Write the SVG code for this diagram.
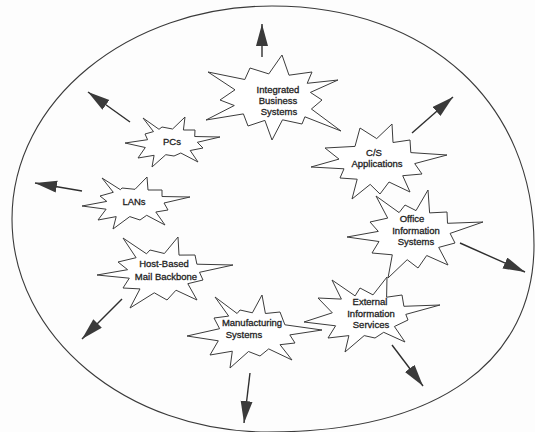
<svg xmlns="http://www.w3.org/2000/svg" width="535" height="432" viewBox="0 0 535 432">
<defs>
<style>
.bg{fill:#fdfdfd}
.ring{fill:none;stroke:#3a3a3a;stroke-width:1.1}
.star{fill:#ffffff;stroke:#3c3c3c;stroke-width:1;stroke-linejoin:miter}
.lbl{font-family:"Liberation Sans",Arial,sans-serif;font-size:9.5px;fill:#1e1e1e;stroke:#1e1e1e;stroke-width:0.3;text-anchor:middle}
.arr{stroke:#2e2e2e;stroke-width:1.4;fill:none;marker-end:url(#ah)}
</style>
<marker id="ah" markerUnits="userSpaceOnUse" markerWidth="24" markerHeight="14" refX="22" refY="6" orient="auto">
<path d="M0,0 L22,6 L0,12 Z" fill="#3a3a3a"/>
</marker>
</defs>
<rect class="bg" x="0" y="0" width="535" height="432"/>
<path class="ring" d="M272,6 C430,6 534,105 534,245 C534,360 440,432 268,432 C127,432 12,337 12,219 C12,101 128,6 272,6 Z"/>
<g id="connectors">
<line class="arr" x1="262" y1="57" x2="262" y2="24"/>
<line class="arr" x1="130" y1="122" x2="88" y2="92"/>
<line class="arr" x1="412" y1="133" x2="453" y2="97"/>
<line class="arr" x1="82" y1="191" x2="35" y2="183"/>
<line class="arr" x1="460" y1="243" x2="525" y2="272"/>
<line class="arr" x1="122" y1="299" x2="82" y2="339"/>
<line class="arr" x1="250" y1="373" x2="244" y2="423"/>
<line class="arr" x1="392" y1="345" x2="423" y2="386"/>
</g>
<g id="integrated">
<polygon class="star" points="282,55 289,75.2 312,72 307.2,83.3 338,80 310.4,92.4 322,100 311.4,109 341,131 304.9,116.8 302,124 282.5,119.8 272,140 264.9,120.4 248,126 243.4,113.9 206,120 234.3,105.5 220,100 235,89.8 208,72 244.8,79.5 250,68 268.8,73.9"/>
<text class="lbl" x="278" y="93">Integrated</text>
<text class="lbl" x="278" y="104">Business</text>
<text class="lbl" x="279" y="115">Systems</text>
</g>
<g id="cs">
<polygon class="star" points="392,124 393,142.5 410,140 410.8,152.6 447,155 414.7,163.6 422,174 402.7,175.7 410,192 389,182 380,194 370.2,184.4 352,199 357.2,179.2 340,178 344,168.8 311,167 339,159.1 325,148 355,146.4 360,128 376.7,138.6"/>
<text class="lbl" x="374" y="156">C/S</text>
<text class="lbl" x="377" y="167">Applications</text>
</g>
<g id="office">
<polygon class="star" points="428,190 429.6,212.9 447,212 447.5,223.3 483,222 450.1,233.4 455,243 438.7,247.4 448,265 426.7,255.5 418,268 407.2,259.7 388,278 392.3,254.8 372,253 379,241.5 347,237 378.3,231.4 370,222 387.7,218.1 376,196 399.1,212.6 405,205 416,210.6"/>
<text class="lbl" x="412" y="222">Office</text>
<text class="lbl" x="416" y="233.5">Information</text>
<text class="lbl" x="416" y="245">Systems</text>
</g>
<g id="external">
<polygon class="star" points="387,277 386.6,297.2 402,295 403.9,306.3 440,305 405.8,314.4 408,320 394.4,326.5 405,342 383.7,332.3 375,338 364.2,335.6 345,352 348.9,335.6 328,338 335.6,325.8 304,322 332.3,312.8 318,298 341.4,299.1 332,280 355.1,295.9 360,288 373,294.9"/>
<text class="lbl" x="370" y="305">External</text>
<text class="lbl" x="371" y="316.5">Information</text>
<text class="lbl" x="371" y="328">Services</text>
</g>
<g id="manufacturing">
<polygon class="star" points="262,295 265.4,313.5 280,312 284.9,324.8 322,330 289.8,334.9 295,343 280,344.7 292,360 268.7,348.9 260,356 248.5,351.5 230,368 232.3,351.2 210,355 218.3,340.8 187,336 219.6,328.7 214,318 228.7,316.1 215,297 237.1,313.5 240,310 252.4,312.8"/>
<text class="lbl" x="252" y="325.5">Manufacturing</text>
<text class="lbl" x="244" y="338">Systems</text>
</g>
<g id="host-based">
<polygon class="star" points="178,237 179,255.1 195,255 196.9,264.2 233,265 199.5,272.3 203,280 187.8,283.7 197,300 176,290.2 167,300 154.3,292.8 130,308 140,288.9 123,288 129.3,278.2 97,275 127.6,269.7 118,262 136.1,257.7 123,238 146.5,253.8 150,250 164.4,253.5"/>
<text class="lbl" x="164" y="267">Host-Based</text>
<text class="lbl" x="166" y="280">Mail Backbone</text>
</g>
<g id="lans">
<polygon class="star" points="147,177 148,190 162,190 162,196.5 190,197 164,203 168,210 155.8,212 165,225 146.7,215.3 140,220 129.8,216.6 113,229 116.2,216.6 98,220 106.1,209.2 82,206 106.8,201.4 100,196 113.3,192.3 102,178 120.4,189.7 122,188 135,189.3"/>
<text class="lbl" x="134" y="205">LANs</text>
</g>
<g id="pcs">
<polygon class="star" points="185,117 183.4,130 195,130 194.7,136.5 220,137 197.3,142.3 203,148 190.2,150.5 198,162 180.8,153 174,156 165.8,154.7 152,167 154.1,155.3 138,158 145.3,147.5 125,143 147.6,139.7 145,134 153.5,131.6 143,118 159,129.3 162,127 172.6,129"/>
<text class="lbl" x="172" y="145">PCs</text>
</g>
</svg>
